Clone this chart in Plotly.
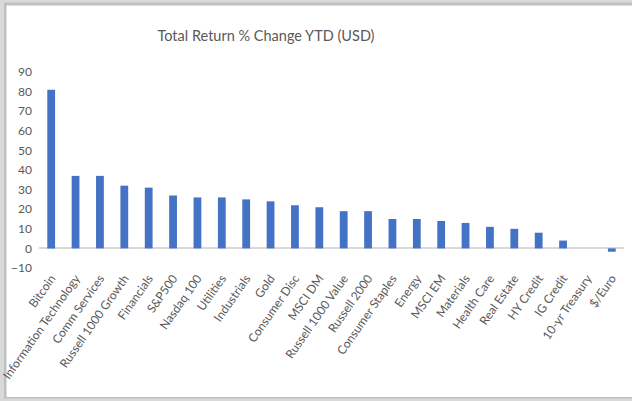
import plotly.graph_objects as go

categories = ["Bitcoin", "Information Technology", "Comm Services", "Russell 1000 Growth",
              "Financials", "S&P500", "Nasdaq 100", "Utilities", "Industrials", "Gold",
              "Consumer Disc", "MSCI DM", "Russell 1000 Value", "Russell 2000",
              "Consumer Staples", "Energy", "MSCI EM", "Materials", "Health Care",
              "Real Estate", "HY Credit", "IG Credit", "10-yr Treasury", "$/Euro"]
values = [81, 37, 37, 32, 31, 27, 26, 26, 25, 24, 22, 21, 19, 19, 15, 15, 14, 13, 11, 10, 8, 4, 0, -1.7]
y_ticks = [-10, 0, 10, 20, 30, 40, 50, 60, 70, 80, 90]

W, H = 632, 401
L, R, T, B = 39, 8, 72, 133
pw = W - L - R
ph = H - T - B

def px_x(p):
    return (p - L) / pw

def px_y(p):
    return (H - B - p) / ph

fig = go.Figure(go.Bar(
    x=categories, y=values,
    marker=dict(color="#4472C4", line=dict(width=0)),
    width=0.32,
))

font = "Lato, Open Sans, sans-serif"
fig.update_layout(
    width=W, height=H,
    margin=dict(l=L, r=R, t=T, b=B, autoexpand=False),
    paper_bgcolor="#d9d9d9",
    plot_bgcolor="white",
    showlegend=False,
    title=dict(text="Total Return % Change YTD (USD)", x=266 / W, xanchor="center",
               xref="container", yref="container",
               y=1 - 36 / H, yanchor="middle",
               font=dict(family=font, size=14.5, color="#595959")),
    font=dict(family=font, color="#595959"),
    xaxis=dict(tickangle=-55, tickfont=dict(size=12, color="#595959"), automargin=False,
               showgrid=False, showline=False, ticks="", zeroline=False),
    yaxis=dict(range=[-10, 90], tickvals=y_ticks, showgrid=False, showline=False, automargin=False,
               zeroline=True, zerolinecolor="#d9d9d9", zerolinewidth=1.5,
               tickfont=dict(size=12, color="#595959"), ticklabelstandoff=6),
    bargap=0.68,
    shapes=[
        dict(type="rect", xref="paper", yref="paper", layer="below",
             x0=px_x(4), x1=px_x(W + 5), y0=px_y(398.5), y1=px_y(2.5),
             fillcolor="#bfbfbf", line=dict(width=0)),
        dict(type="rect", xref="paper", yref="paper", layer="below",
             x0=px_x(6.5), x1=px_x(W + 5), y0=px_y(397), y1=px_y(5.5),
             fillcolor="white", line=dict(width=0)),
    ],
)

fig.write_html("out.html", config={"displayModeBar": False},
               post_script="document.body.style.margin='0';document.body.style.overflow='hidden';")
